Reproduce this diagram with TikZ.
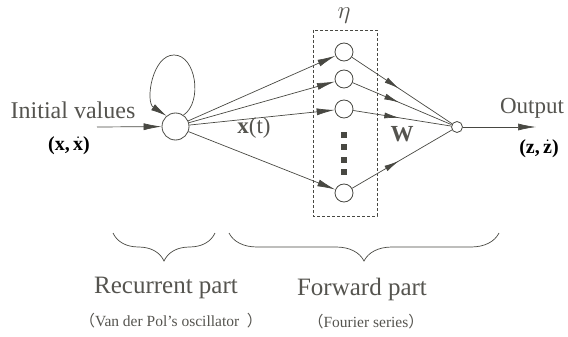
\documentclass[tikz,border=0pt]{standalone}
\usepackage{fontspec}
\setmainfont{Liberation Serif}
\newfontfamily\cjk{Noto Sans CJK SC}
\usetikzlibrary{arrows.meta,decorations.pathreplacing,decorations.markings}
\definecolor{lc}{RGB}{72,72,66}
\definecolor{tc}{RGB}{85,84,79}
\begin{document}
\begin{tikzpicture}[x=1pt,y=-1pt,
  neuron/.style={circle,draw=lc,line width=0.8pt,fill=white,inner sep=0pt},
  conn/.style={draw=lc,line width=0.7pt},
  bigtip/.style={-{Latex[length=18pt,width=7pt]}},
  midtip/.style={postaction={decorate},decoration={markings,mark=at position 0.47 with {\arrow{Latex[length=15pt,width=6pt]}}}},
  txt/.style={text=tc,inner sep=0pt},
  btxt/.style={text=black,inner sep=0pt},
  dotsq/.style={fill=lc,minimum size=6pt,inner sep=0pt}]
\useasboundingbox (0,0) rectangle (568,337);

% nodes
\node[neuron,minimum size=27pt] (rc) at (175.5,126.5) {};
\node[neuron,minimum size=18pt] (h1) at (344,52) {};
\node[neuron,minimum size=18pt] (h2) at (344,79) {};
\node[neuron,minimum size=18pt] (h3) at (344,109) {};
\node[neuron,minimum size=18pt] (h4) at (344,193) {};
\node[neuron,minimum size=11pt] (oc) at (457,127) {};
\coordinate (inp) at (97,127);
\coordinate (outp) at (536,127);
\coordinate (looptop) at (174,55);

% dashed box
\draw[lc,line width=0.7pt,dash pattern=on 3pt off 2pt] (313,30) rectangle (377,216);
\node[txt,font=\fontsize{25}{28}\selectfont] (eta) at (344,16) {$\eta$};

% dots
\node[dotsq] (d1) at (344,135) {};
\node[dotsq] (d2) at (344,147) {};
\node[dotsq] (d3) at (344,160) {};
\node[dotsq] (d4) at (344,172) {};

% input / output
\draw[conn,bigtip] (inp) -- (rc);
\draw[conn,bigtip] (oc) -- (outp);

% self loop
\draw[conn,-{Latex[length=16pt,width=7pt]}] (rc.55) .. controls (203,102) and (196,55) .. (looptop)
  .. controls (152,55) and (145,102) .. (rc.130);

% recurrent -> hidden
\foreach \h in {h1,h2,h3,h4}{
  \draw[conn,bigtip] (rc) -- (\h);
  \draw[conn,midtip] (\h) -- (oc);
}

% labels
\node[txt,font=\fontsize{24}{28}\selectfont] (iv) at (73,110) {Initial~values};
\node[btxt,font=\fontsize{20}{22}\selectfont\bfseries] (xpair) at (69,146) {(x,\,$\dot{\mathbf{x}}$)};
\node[txt,font=\fontsize{23}{26}\selectfont] (xt) at (254,128) {\textbf{x}(t)};
\node[txt,font=\fontsize{23}{26}\selectfont\bfseries] (w) at (402,134) {W};
\node[txt,font=\fontsize{23}{26}\selectfont] (out) at (532,108) {Output};
\node[btxt,font=\fontsize{20}{22}\selectfont\bfseries] (zpair) at (539,149) {(z,\,$\dot{\mathbf{z}}$)};

% braces
\draw[lc,line width=0.7pt,decorate,decoration={brace,amplitude=28pt}] (215,233) -- (113,233);
\draw[lc,line width=0.7pt,decorate,decoration={brace,amplitude=28pt}] (499,233) -- (229,233);

\node[txt,font=\fontsize{25}{28}\selectfont] (rp) at (166,288) {Recurrent part};
\node[txt,font=\fontsize{25}{28}\selectfont] (fp) at (362,289) {Forward part};
\node[txt,font=\fontsize{15.5}{18}\selectfont] (vdp) at (171,321) {{\cjk （}Van der Pol’s oscillator~~{\cjk ）}};
\node[txt,font=\fontsize{15.5}{18}\selectfont] (fs) at (366,322) {{\cjk （}Fourier series{\cjk ）}};
\end{tikzpicture}
\end{document}
